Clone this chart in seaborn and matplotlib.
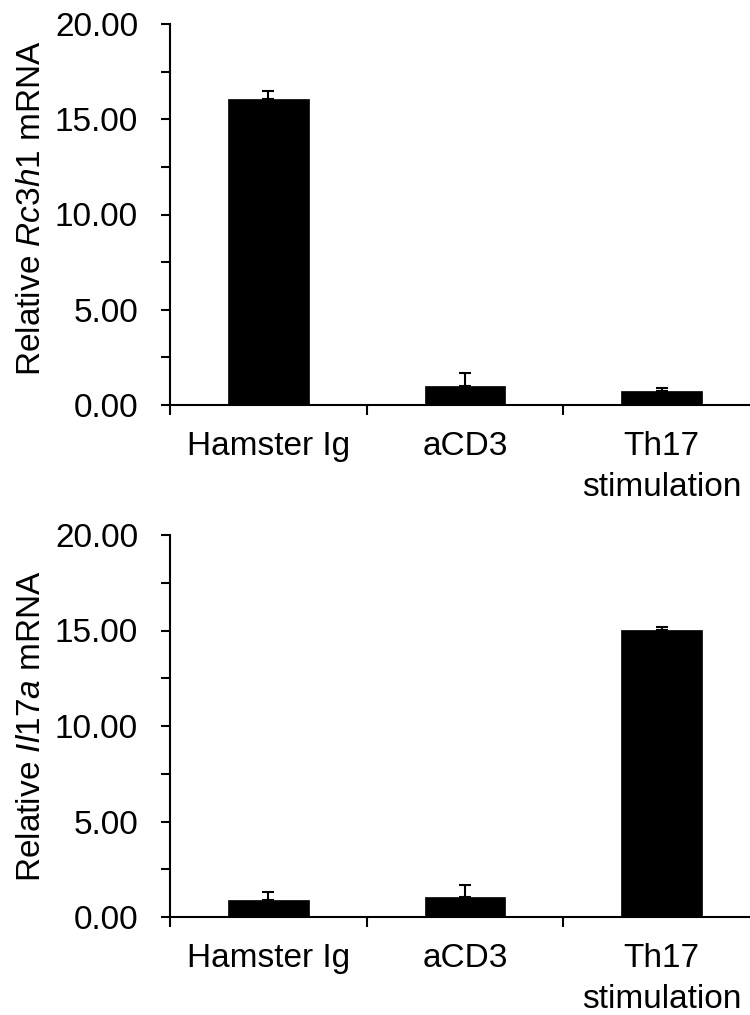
import matplotlib
matplotlib.use("Agg")
import matplotlib.pyplot as plt
import seaborn as sns
import pandas as pd
import numpy as np
from matplotlib.ticker import FixedLocator, FormatStrFormatter

categories = ["Hamster Ig", "aCD3", "Th17\nstimulation"]
rc3h1_values = [16.05, 1.01, 0.75]
rc3h1_errors = [0.42, 0.67, 0.16]
il17a_values = [0.89, 1.03, 15.05]
il17a_errors = [0.42, 0.65, 0.14]
ylabels = ["Relative $\\mathit{Rc3h1}$ mRNA", "Relative $\\mathit{Il17a}$ mRNA"]

sns.set_theme(style="ticks")
plt.rcParams["font.family"] = ["Liberation Sans", "DejaVu Sans"]
plt.rcParams["mathtext.fontset"] = "custom"
plt.rcParams["mathtext.rm"] = "Liberation Sans"
plt.rcParams["mathtext.it"] = "Liberation Sans:italic"
plt.rcParams["mathtext.bf"] = "Liberation Sans:bold"
for k in ["text.color", "axes.labelcolor", "xtick.color", "ytick.color", "axes.edgecolor"]:
    plt.rcParams[k] = "black"

fig = plt.figure(figsize=(7.5, 10.15), dpi=100)
W, H = 750, 1015
ax_top = fig.add_axes([170 / W, (H - 405) / H, 1 - 170 / W, 381 / H])
ax_bot = fig.add_axes([170 / W, (H - 917) / H, 1 - 170 / W, 382 / H])

FS = 24

def draw(ax, values, errors, ylabel, label_y):
    df = pd.DataFrame({"cat": categories, "val": values})
    sns.barplot(data=df, x="cat", y="val", order=categories, color="black",
                width=0.41, errorbar=None, ax=ax, edgecolor="black", linewidth=0.5,
                saturation=1)
    ax.errorbar(x=np.arange(len(values)), y=values,
                yerr=[np.zeros(len(values)), errors], fmt="none",
                ecolor="black", elinewidth=1.5, capsize=4, capthick=1.5)
    ax.set_ylim(0, 20)
    ax.set_xlim(-0.5, 2.45)
    ax.yaxis.set_major_locator(FixedLocator([0, 5, 10, 15, 20]))
    ax.yaxis.set_minor_locator(FixedLocator([2.5, 7.5, 12.5, 17.5]))
    ax.yaxis.set_major_formatter(FormatStrFormatter("%.2f"))
    ax.tick_params(axis="y", which="both", direction="out", length=6.5,
                   width=1.5, color="black", labelsize=FS, pad=16.5)
    # category dividers as major x ticks, labels on minor ticks
    ax.xaxis.set_major_locator(FixedLocator([-0.5, 0.5, 1.5]))
    ax.xaxis.set_major_formatter(plt.NullFormatter())
    ax.xaxis.set_minor_locator(FixedLocator([0, 1, 2]))
    ax.xaxis.set_minor_formatter(plt.FixedFormatter(categories))
    ax.tick_params(axis="x", which="major", direction="out", length=7,
                   width=1.5, color="black")
    ax.tick_params(axis="x", which="minor", length=0, labelsize=FS, pad=18.5)
    ax.set_xlabel("")
    ax.set_ylabel(ylabel, fontsize=FS)
    ax.yaxis.set_label_coords(-0.212, label_y)
    for s in ["top", "right"]:
        ax.spines[s].set_visible(False)
    for s in ["left", "bottom"]:
        ax.spines[s].set_linewidth(1.5)
        ax.spines[s].set_color("black")
    for lab in ax.xaxis.get_minorticklabels():
        lab.set_linespacing(1.45)

draw(ax_top, rc3h1_values, rc3h1_errors, ylabels[0], 0.517)
draw(ax_bot, il17a_values, il17a_errors, ylabels[1], 0.5)

fig.savefig("out.png", dpi=100, facecolor="white")
